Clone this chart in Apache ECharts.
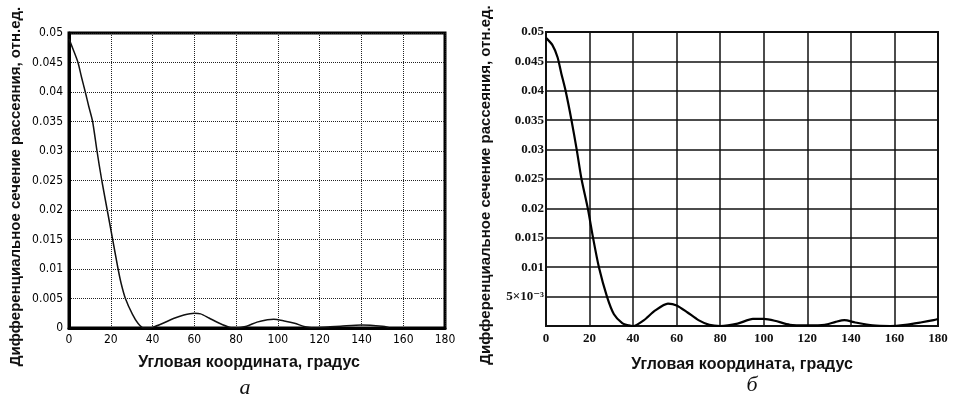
<!DOCTYPE html>
<html>
<head>
<meta charset="utf-8">
<script src="https://cdn.jsdelivr.net/npm/echarts@6/dist/echarts.min.js"></script>
<style>
  html, body {margin: 0; padding: 0; background: #fff;}
  #chart {width: 955px; height: 395px;}
</style>
</head>
<body>
<div id="chart"></div>
<script>
// panel "а" (angle, deg -> cross-section)
const angA = [0, 2, 4.3, 6, 7.8, 9.5, 11.3, 13.4, 15.7, 18.3, 20.9, 23.5, 25, 27, 30.4, 33, 35.7, 38, 40, 45,
    50, 55, 60, 63, 67, 72, 77, 80, 85, 90, 95, 98, 103, 108, 113, 117, 125, 130, 140, 150, 153]
const valA = [0.049, 0.0472, 0.045, 0.0425, 0.040, 0.0375, 0.035, 0.030, 0.025, 0.020, 0.015, 0.010, 0.0075, 0.005, 0.0023, 0.0008, 0, 0, 0.0001, 0.0008,
    0.0016, 0.0022, 0.0025, 0.0024, 0.0017, 0.0008, 0.0001, 0, 0.0003, 0.001, 0.0014, 0.0015, 0.0012, 0.0008, 0.0002, 0, 0.0002, 0.0003, 0.0005, 0.0003, 0.0001]

// panel "б"
const angB = [0, 2.9, 5.3, 7, 9, 11.7, 14.1, 16.3, 19.2, 21.6, 24.3, 28, 31.2, 35, 38, 40, 45, 50, 56, 60,
    65, 70, 75, 80, 88, 95, 100, 105, 112, 120, 128, 133, 137, 142, 150, 158, 165, 172, 178, 180]
const valB = [0.049, 0.0478, 0.0457, 0.043, 0.040, 0.035, 0.030, 0.025, 0.020, 0.015, 0.010, 0.005, 0.002, 0.0005, 0.0001, 0, 0.001, 0.0026, 0.0038, 0.0035,
    0.0023, 0.001, 0.0002, 0, 0.0004, 0.0012, 0.0012, 0.0009, 0.0002, 0.0001, 0.0002, 0.0007, 0.001, 0.0006, 0.0001, 0, 0.0002, 0.0006, 0.001, 0.0012]

const xTitle = 'Угловая координата, градус'
const yTitle = 'Дифференциальное сечение рассеяния, отн.ед.'
const panelNames = ['а', 'б']

const narrow = '"DejaVu Sans Condensed", "Liberation Sans Narrow", sans-serif'
const serif = '"Liberation Serif", "DejaVu Serif", serif'
const bold = {fontFamily: '"Liberation Sans", Arial, sans-serif', fontWeight: 'bold', color: '#111'}

const toPairs = (xs, ys) => xs.map((x, i) => [x, ys[i]])

const chart = echarts.init(document.getElementById('chart'))
chart.setOption({
    animation: false,
    backgroundColor: '#fff',
    grid: [
        {left: 69, right: 510, top: 33, bottom: 67, show: true, borderColor: '#000', borderWidth: 3},
        {left: 546, right: 17, top: 32, bottom: 69, show: true, borderColor: '#111', borderWidth: 2},
    ],
    xAxis: [
        {
            type: 'value', gridIndex: 0, min: 0, max: 180, interval: 20,
            axisLine: {lineStyle: {color: '#000', width: 3}},
            axisTick: {show: false},
            axisLabel: {margin: 6, fontSize: 12, fontFamily: narrow, color: '#000'},
            splitLine: {lineStyle: {color: '#222', type: 'dotted', width: 1}},
            name: xTitle, nameLocation: 'middle', nameGap: 27,
            nameTextStyle: {...bold, fontSize: 16, padding: [0, 16, 0, 0]},
        },
        {
            type: 'value', gridIndex: 1, min: 0, max: 180, interval: 20,
            axisLine: {lineStyle: {color: '#111', width: 2}},
            axisTick: {show: false},
            axisLabel: {margin: 6, fontSize: 13, fontFamily: serif, fontWeight: 'bold', color: '#111'},
            splitLine: {lineStyle: {color: '#111', width: 1.5}},
            name: xTitle, nameLocation: 'middle', nameGap: 31,
            nameTextStyle: {...bold, fontSize: 16},
        },
    ],
    yAxis: [
        {
            type: 'value', gridIndex: 0, min: 0, max: 0.05, interval: 0.005,
            axisLine: {lineStyle: {color: '#000', width: 3}},
            axisTick: {show: false},
            axisLabel: {margin: 6, fontSize: 12, fontFamily: narrow, color: '#000'},
            splitLine: {lineStyle: {color: '#222', type: 'dotted', width: 1}},
            name: yTitle, nameLocation: 'middle', nameGap: 46,
            nameTextStyle: {...bold, fontSize: 15, padding: [0, 12, 0, 0]},
        },
        {
            type: 'value', gridIndex: 1, min: 0, max: 0.05, interval: 0.005,
            axisLine: {lineStyle: {color: '#111', width: 2}},
            axisTick: {show: false},
            axisLabel: {
                margin: 2, fontSize: 13, fontFamily: serif, fontWeight: 'bold', color: '#111',
                formatter(v) {
                    if (v === 0) return ''
                    if (Math.abs(v - 0.005) < 1e-9) return '5×10⁻³'
                    return String(+v.toFixed(3))
                }
            },
            splitLine: {lineStyle: {color: '#111', width: 1.5}},
            name: yTitle, nameLocation: 'middle', nameGap: 53,
            nameTextStyle: {...bold, fontSize: 15, padding: [0, 12, 0, 0]},
        },
    ],
    graphic: [
        {type: 'text', x: 245, y: 388, style: {text: panelNames[0], font: 'italic 22px "Liberation Serif", serif', fill: '#111', textAlign: 'center', textVerticalAlign: 'middle'}},
        {type: 'text', x: 752, y: 385, style: {text: panelNames[1], font: 'italic 22px "Liberation Serif", serif', fill: '#111', textAlign: 'center', textVerticalAlign: 'middle'}},
    ],
    series: [
        {
            type: 'line', xAxisIndex: 0, yAxisIndex: 0, showSymbol: false,
            smooth: 0.25,
            lineStyle: {color: '#111', width: 1.5},
            data: toPairs(angA, valA),
        },
        {
            type: 'line', xAxisIndex: 1, yAxisIndex: 1, showSymbol: false,
            smooth: 0.25,
            lineStyle: {color: '#000', width: 2.2},
            data: toPairs(angB, valB),
        },
    ]
})
</script>
</body>
</html>
